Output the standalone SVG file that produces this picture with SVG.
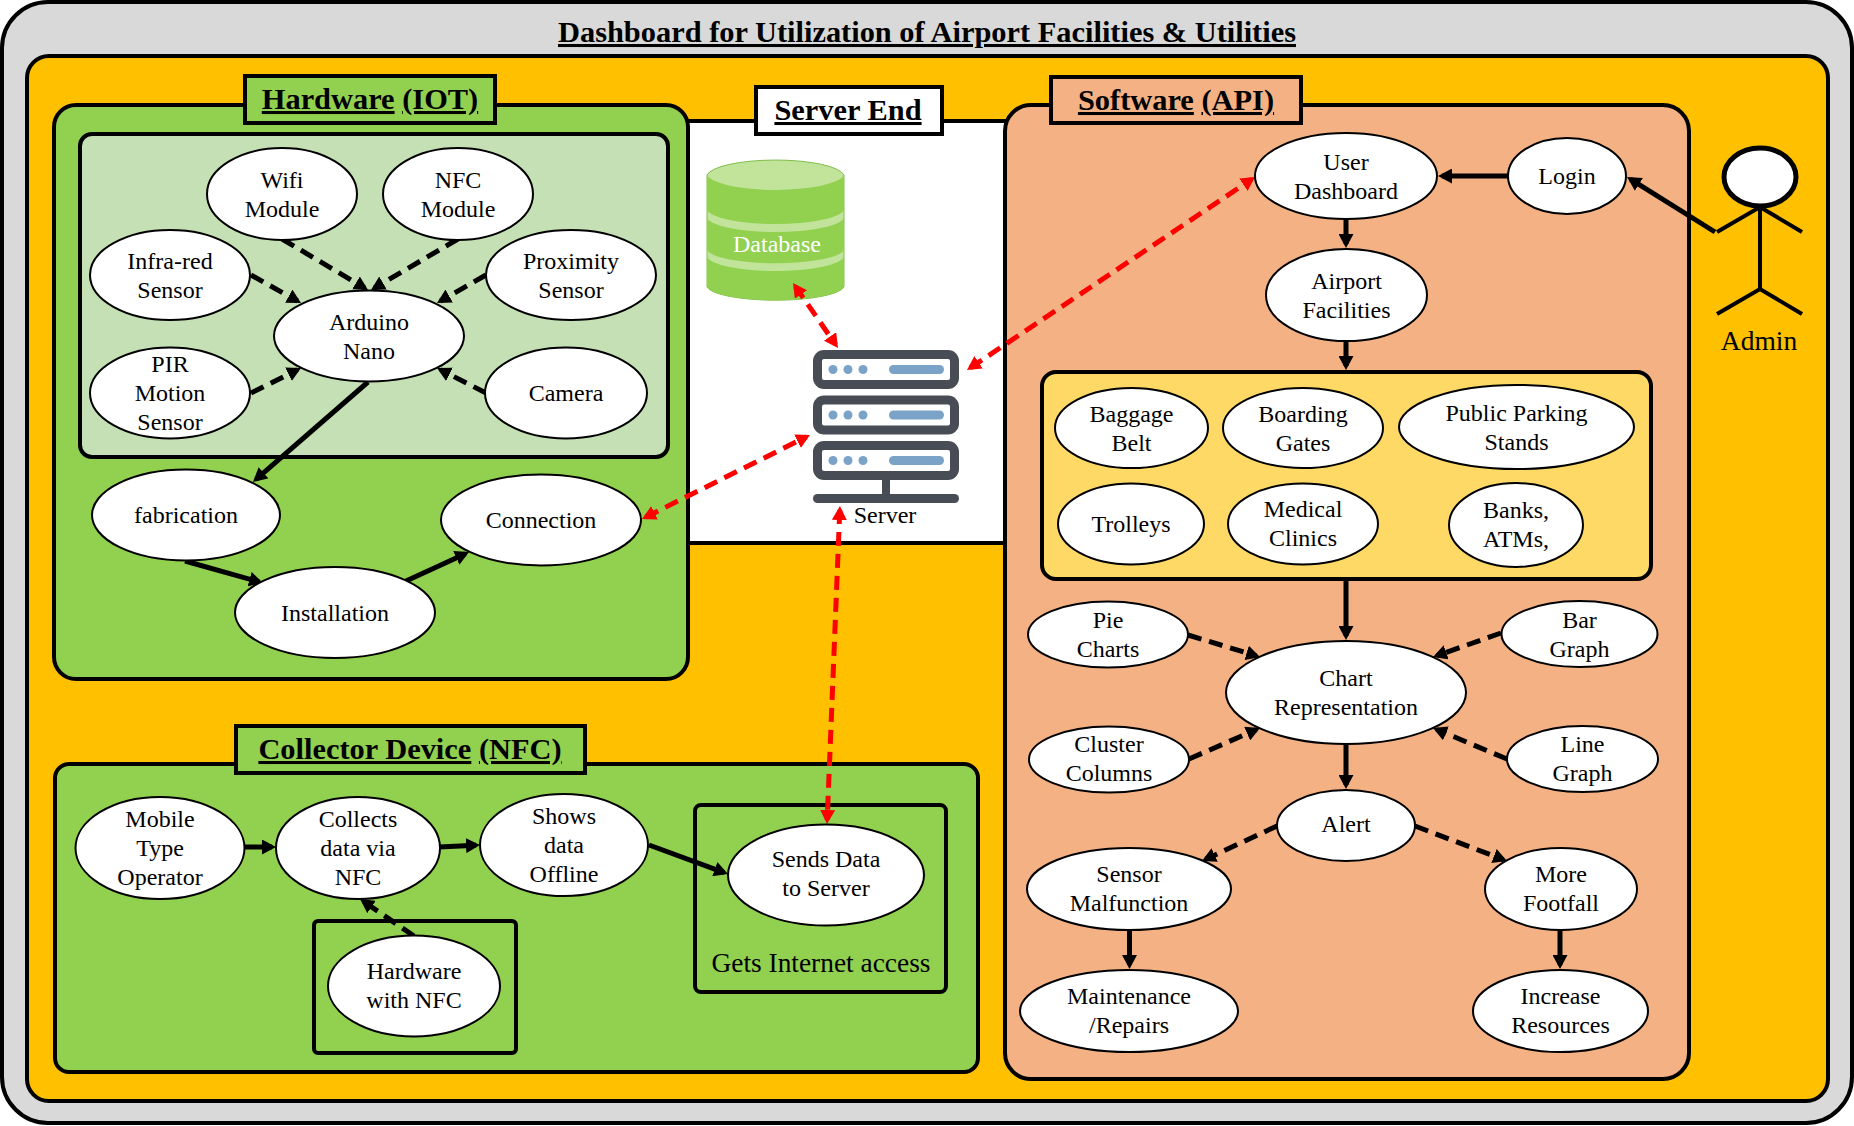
<svg xmlns="http://www.w3.org/2000/svg" width="1854" height="1126" viewBox="0 0 1854 1126">
<style>
text{font-family:"Liberation Serif","Times New Roman",serif;font-size:24px;text-anchor:middle;fill:#000}
.h{font-weight:bold;font-size:30.4px}
.u{text-decoration:underline}
.p{stroke:#000;stroke-width:4}
.n ellipse,ellipse.n{fill:#fff;stroke:#000;stroke-width:2}
.c line{stroke:#000;stroke-width:5;fill:none}
.c line.a{marker-end:url(#ah)}
.c line.d{marker-end:url(#ah);stroke-dasharray:14 8}
.c line.r{stroke:#f00;stroke-dasharray:14 8;marker-end:url(#rh);marker-start:url(#rh)}
.rk{fill:#474C55}.rw{fill:#fff}.rb{fill:#7BA3C8}
</style>
<defs>
<marker id="ah" markerUnits="userSpaceOnUse" markerWidth="14" markerHeight="15" refX="10" refY="7.5" orient="auto"><path d="M0,0L14,7.5L0,15z" fill="#000"/></marker>
<marker id="rh" markerUnits="userSpaceOnUse" markerWidth="14" markerHeight="15" refX="10" refY="7.5" orient="auto-start-reverse"><path d="M0,0L14,7.5L0,15z" fill="#f00"/></marker>
<g id="rack"><rect class="rk" x="813" y="0" width="146" height="39" rx="11"/><rect class="rw" x="822" y="9" width="128" height="21" rx="2"/><circle class="rb" cx="833" cy="19.5" r="4.5"/><circle class="rb" cx="848" cy="19.5" r="4.5"/><circle class="rb" cx="863" cy="19.5" r="4.5"/><rect class="rb" x="889" y="15" width="55" height="9" rx="4.5"/></g>
</defs>

<g id="containers">
<rect class="p" x="2" y="2" width="1850" height="1121" rx="46" fill="#D9D9D9"/>
<rect class="p" x="27" y="56" width="1801" height="1045" rx="22" fill="#FFC000"/>
<rect class="p" x="670" y="121" width="350" height="422" fill="#fff"/>
<rect class="p" x="54" y="105" width="634" height="574" rx="22" fill="#92D050"/>
<rect class="p" x="80" y="134" width="588" height="323" rx="12" fill="#C5E0B4"/>
<rect class="p" x="1005" y="105" width="684" height="974" rx="26" fill="#F4B183"/>
<rect class="p" x="1042" y="372" width="609" height="207" rx="14" fill="#FFD966"/>
<rect class="p" x="55" y="764" width="923" height="308" rx="14" fill="#92D050"/>
<rect class="p" x="695" y="805" width="251" height="187" rx="6" fill="#92D050"/>
<rect class="p" x="314" y="921" width="202" height="132" rx="4" fill="#92D050"/>
<g id="label-title"><text class="h u" x="927" y="42">Dashboard for Utilization of Airport Facilities &amp; Utilities</text></g>
<g id="label-hardware"><rect class="p" x="245" y="76" width="250" height="47" fill="#92D050"/><text class="h" x="370" y="109"><tspan class="u">Hardware</tspan> <tspan class="u">(IOT)</tspan></text></g>
<g id="label-server"><rect class="p" x="756" y="87" width="186" height="47" fill="#fff"/><text class="h u" x="848" y="120">Server End</text></g>
<g id="label-software"><rect class="p" x="1051" y="77" width="250" height="46" fill="#F4B183"/><text class="h" x="1176" y="110"><tspan class="u">Software</tspan> <tspan class="u">(API)</tspan></text></g>
<g id="label-collector"><rect class="p" x="236" y="726" width="349" height="47" fill="#92D050"/><text class="h" x="410" y="759"><tspan class="u">Collector Device</tspan> <tspan class="u">(NFC)</tspan></text></g>
<text x="821" y="972" style="font-size:27.4px">Gets Internet access</text>
</g>

<g id="node-database">
<path d="M707,175A69,17 0 0 1 844,175V287A69,15 0 0 1 707,287Z" fill="#C1E49A" stroke="#7FBF4D" stroke-width="1"/>
<path d="M707,175A69,17 0 0 0 844,175V210A69,16 0 0 1 707,210Z" fill="#92D050"/>
<path d="M707,218A69,16 0 0 0 844,218V250A69,15 0 0 1 707,250Z" fill="#92D050"/>
<path d="M707,257A69,16 0 0 0 844,257V287A69,15 0 0 1 707,287Z" fill="#92D050"/>
<text x="777" y="252" style="fill:#fff">Database</text>
</g>
<g id="node-server">
<use href="#rack" y="350"/><use href="#rack" y="395.5"/><use href="#rack" y="441"/>
<rect class="rk" x="882" y="478" width="8" height="18"/>
<rect class="rk" x="813" y="494" width="146" height="9" rx="4.5"/>
<text x="885" y="523">Server</text>
</g>

<g id="connectors" class="c">
<line class="a" x1="368" y1="382" x2="256" y2="479.4"/>
<line class="a" x1="185" y1="561" x2="259.2" y2="581.9"/>
<line class="a" x1="406" y1="581" x2="465.4" y2="553.7"/>
<line class="d" x1="282" y1="239" x2="364.6" y2="288"/>
<line class="d" x1="458" y1="239" x2="374.4" y2="288"/>
<line class="d" x1="251" y1="275" x2="297.5" y2="301"/>
<line class="d" x1="486" y1="275" x2="440.5" y2="301"/>
<line class="d" x1="251" y1="393" x2="297.4" y2="369.8"/>
<line class="d" x1="486" y1="393" x2="440.6" y2="369.8"/>
<line class="a" x1="244" y1="847" x2="272" y2="847"/>
<line class="a" x1="439" y1="847" x2="476" y2="845.2"/>
<line class="a" x1="649" y1="845" x2="724.2" y2="872.6"/>
<line class="d" x1="414" y1="936" x2="363.3" y2="901.3"/>
<line class="a" x1="1508" y1="176" x2="1442" y2="176"/>
<line class="a" x1="1346" y1="219" x2="1346" y2="244"/>
<line class="a" x1="1346" y1="341" x2="1346" y2="366"/>
<line class="a" x1="1346" y1="579" x2="1346" y2="636"/>
<line class="a" x1="1346" y1="744" x2="1346" y2="785"/>
<line class="d" x1="1188" y1="635" x2="1256.2" y2="655.8"/>
<line class="d" x1="1501" y1="633" x2="1436.8" y2="655.7"/>
<line class="d" x1="1189" y1="759" x2="1256.3" y2="729.6"/>
<line class="d" x1="1507" y1="759" x2="1436.7" y2="729.5"/>
<line class="d" x1="1277" y1="826" x2="1205.6" y2="859.3"/>
<line class="d" x1="1415" y1="826" x2="1503.3" y2="859.6"/>
<line class="a" x1="1129.5" y1="930" x2="1129.5" y2="965"/>
<line class="a" x1="1560" y1="930" x2="1560" y2="965"/>
<line class="a" x1="1715" y1="232" x2="1630.4" y2="179.1"/>
<line class="r" x1="795.3" y1="286.3" x2="835.7" y2="344.7"/>
<line class="r" x1="970.3" y1="367.8" x2="1251.7" y2="179.2"/>
<line class="r" x1="645.6" y1="517.2" x2="806.4" y2="436.8"/>
<line class="r" x1="839.8" y1="510" x2="827.2" y2="820"/>
</g>

<g id="node-wifi" class="n"><ellipse cx="282" cy="194" rx="75" ry="46"/><text><tspan x="282" y="188">Wifi</tspan><tspan x="282" y="217">Module</tspan></text></g>
<g id="node-nfc" class="n"><ellipse cx="458" cy="194" rx="75" ry="46"/><text><tspan x="458" y="188">NFC</tspan><tspan x="458" y="217">Module</tspan></text></g>
<g id="node-infrared" class="n"><ellipse cx="170" cy="275" rx="80" ry="45"/><text><tspan x="170" y="269">Infra-red</tspan><tspan x="170" y="298">Sensor</tspan></text></g>
<g id="node-proximity" class="n"><ellipse cx="571" cy="275" rx="85" ry="45"/><text><tspan x="571" y="269">Proximity</tspan><tspan x="571" y="298">Sensor</tspan></text></g>
<g id="node-arduino" class="n"><ellipse cx="369" cy="336" rx="95" ry="45.5"/><text><tspan x="369" y="330">Arduino</tspan><tspan x="369" y="359">Nano</tspan></text></g>
<g id="node-pir" class="n"><ellipse cx="170" cy="393" rx="80" ry="45.5"/><text><tspan x="170" y="372">PIR</tspan><tspan x="170" y="401">Motion</tspan><tspan x="170" y="430">Sensor</tspan></text></g>
<g id="node-camera" class="n"><ellipse cx="566" cy="393" rx="81" ry="45.5"/><text x="566" y="401">Camera</text></g>
<g id="node-fabrication" class="n"><ellipse cx="186" cy="515" rx="94" ry="45.5"/><text x="186" y="523">fabrication</text></g>
<g id="node-connection" class="n"><ellipse cx="541" cy="520" rx="100" ry="45.5"/><text x="541" y="528">Connection</text></g>
<g id="node-installation" class="n"><ellipse cx="335" cy="612.5" rx="100" ry="45.5"/><text x="335" y="621">Installation</text></g>

<g id="node-mobile" class="n"><ellipse cx="160" cy="848" rx="84.5" ry="51"/><text><tspan x="160" y="827">Mobile</tspan><tspan x="160" y="856">Type</tspan><tspan x="160" y="885">Operator</tspan></text></g>
<g id="node-collects" class="n"><ellipse cx="358" cy="848" rx="82" ry="51"/><text><tspan x="358" y="827">Collects</tspan><tspan x="358" y="856">data via</tspan><tspan x="358" y="885">NFC</tspan></text></g>
<g id="node-shows" class="n"><ellipse cx="564" cy="845" rx="84" ry="51"/><text><tspan x="564" y="824">Shows</tspan><tspan x="564" y="853">data</tspan><tspan x="564" y="882">Offline</tspan></text></g>
<g id="node-sends" class="n"><ellipse cx="826" cy="875" rx="98" ry="50.5"/><text><tspan x="826" y="867">Sends Data</tspan><tspan x="826" y="896">to Server</tspan></text></g>
<g id="node-hwnfc" class="n"><ellipse cx="414" cy="986" rx="86" ry="50.5"/><text><tspan x="414" y="979">Hardware</tspan><tspan x="414" y="1008">with NFC</tspan></text></g>

<g id="node-dashboard" class="n"><ellipse cx="1346" cy="176" rx="91" ry="43"/><text><tspan x="1346" y="170">User</tspan><tspan x="1346" y="199">Dashboard</tspan></text></g>
<g id="node-login" class="n"><ellipse cx="1567" cy="176" rx="59" ry="38"/><text x="1567" y="184">Login</text></g>
<g id="node-airport" class="n"><ellipse cx="1346.5" cy="295" rx="80.5" ry="46"/><text><tspan x="1346.5" y="289">Airport</tspan><tspan x="1346.5" y="318">Facilities</tspan></text></g>
<g id="node-baggage" class="n"><ellipse cx="1131.5" cy="428" rx="76.5" ry="40"/><text><tspan x="1131.5" y="422">Baggage</tspan><tspan x="1131.5" y="451">Belt</tspan></text></g>
<g id="node-boarding" class="n"><ellipse cx="1303" cy="428" rx="80" ry="40"/><text><tspan x="1303" y="422">Boarding</tspan><tspan x="1303" y="451">Gates</tspan></text></g>
<g id="node-parking" class="n"><ellipse cx="1516.5" cy="427" rx="117.5" ry="42"/><text><tspan x="1516.5" y="421">Public Parking</tspan><tspan x="1516.5" y="450">Stands</tspan></text></g>
<g id="node-trolleys" class="n"><ellipse cx="1131" cy="524" rx="73" ry="40.5"/><text x="1131" y="532">Trolleys</text></g>
<g id="node-medical" class="n"><ellipse cx="1303" cy="524" rx="75" ry="40.5"/><text><tspan x="1303" y="517">Medical</tspan><tspan x="1303" y="546">Clinics</tspan></text></g>
<g id="node-banks" class="n"><ellipse cx="1516" cy="525" rx="67" ry="42"/><text><tspan x="1516" y="518">Banks,</tspan><tspan x="1516" y="547">ATMs,</tspan></text></g>
<g id="node-pie" class="n"><ellipse cx="1108" cy="634.5" rx="80" ry="33"/><text><tspan x="1108" y="628">Pie</tspan><tspan x="1108" y="657">Charts</tspan></text></g>
<g id="node-bar" class="n"><ellipse cx="1579.5" cy="634" rx="78" ry="33"/><text><tspan x="1579.5" y="628">Bar</tspan><tspan x="1579.5" y="657">Graph</tspan></text></g>
<g id="node-chart" class="n"><ellipse cx="1346" cy="692.5" rx="120" ry="51.5"/><text><tspan x="1346" y="686">Chart</tspan><tspan x="1346" y="715">Representation</tspan></text></g>
<g id="node-cluster" class="n"><ellipse cx="1109" cy="759.5" rx="80" ry="33"/><text><tspan x="1109" y="752">Cluster</tspan><tspan x="1109" y="781">Columns</tspan></text></g>
<g id="node-line" class="n"><ellipse cx="1582.5" cy="759" rx="75.5" ry="33"/><text><tspan x="1582.5" y="752">Line</tspan><tspan x="1582.5" y="781">Graph</tspan></text></g>
<g id="node-alert" class="n"><ellipse cx="1346" cy="825.5" rx="69" ry="35.5"/><text x="1346" y="832">Alert</text></g>
<g id="node-sensor" class="n"><ellipse cx="1129" cy="889" rx="102" ry="41"/><text><tspan x="1129" y="882">Sensor</tspan><tspan x="1129" y="911">Malfunction</tspan></text></g>
<g id="node-more" class="n"><ellipse cx="1561" cy="889" rx="76" ry="41"/><text><tspan x="1561" y="882">More</tspan><tspan x="1561" y="911">Footfall</tspan></text></g>
<g id="node-maintenance" class="n"><ellipse cx="1129" cy="1011" rx="109" ry="41"/><text><tspan x="1129" y="1004">Maintenance</tspan><tspan x="1129" y="1033">/Repairs</tspan></text></g>
<g id="node-increase" class="n"><ellipse cx="1560.5" cy="1011" rx="87.5" ry="41"/><text><tspan x="1560.5" y="1004">Increase</tspan><tspan x="1560.5" y="1033">Resources</tspan></text></g>

<g id="node-admin">
<ellipse cx="1760" cy="177" rx="36" ry="29" fill="#fff" stroke="#000" stroke-width="5"/>
<path d="M1760,207V289M1717,232L1760,207L1802,232M1717,314L1760,289L1802,314" fill="none" stroke="#000" stroke-width="4"/>
<text x="1759" y="350" style="font-size:27.5px">Admin</text>
</g>
</svg>
